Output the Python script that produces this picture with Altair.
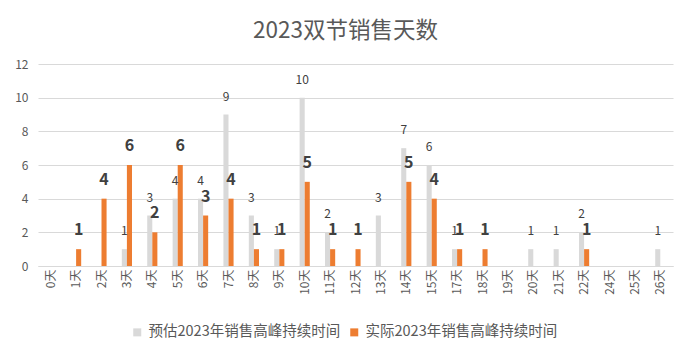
import altair as alt
import pandas as pd

categories = ["0天", "1天", "2天", "3天", "4天", "5天", "6天", "7天", "8天", "9天",
              "10天", "11天", "12天", "13天", "14天", "15天", "17天", "18天", "19天",
              "20天", "21天", "22天", "24天", "25天", "26天"]
estimated = [0, 0, 0, 1, 3, 4, 4, 9, 3, 1, 10, 2, 0, 3, 7, 6, 1, 0, 0, 1, 1, 2, 0, 0, 1]
actual = [0, 1, 4, 6, 2, 6, 3, 4, 1, 1, 5, 1, 1, 0, 5, 4, 1, 1, 0, 0, 0, 1, 0, 0, 0]
series = ["预估2023年销售高峰持续时间", "实际2023年销售高峰持续时间"]
colors = ["#d9d9d9", "#ed7d31"]
title_text = "2023双节销售天数"

rows = []
for c, e, a in zip(categories, estimated, actual):
    rows.append({"cat": c, "series": series[0], "value": e})
    rows.append({"cat": c, "series": series[1], "value": a})
df = pd.DataFrame(rows)

FONT = "Noto Sans CJK SC"

x = alt.X("cat:N", sort=categories, title=None,
          scale=alt.Scale(paddingInner=0.6, paddingOuter=0.3),
          axis=alt.Axis(labelAngle=-90, labelFontSize=12, labelColor="#595959",
                        labelFont=FONT, ticks=False, domainColor="#d9d9d9",
                        labelPadding=3, grid=False))
xoff = alt.XOffset("series:N", sort=series, scale=alt.Scale(domain=series))
y = alt.Y("value:Q", title=None,
          scale=alt.Scale(domain=[0, 12]),
          axis=alt.Axis(values=[0, 2, 4, 6, 8, 10, 12], labelFontSize=12,
                        labelColor="#595959", labelFont=FONT, ticks=False,
                        domain=False, gridColor="#d9d9d9", labelPadding=10))

base = alt.Chart(df)

bars = base.mark_bar().encode(
    x=x, xOffset=xoff, y=y,
    color=alt.Color("series:N", sort=series,
                    scale=alt.Scale(domain=series, range=colors),
                    legend=alt.Legend(title=None, orient="none", direction="horizontal",
                                      legendX=92, legendY=261, symbolType="square",
                                      symbolSize=64, symbolStrokeWidth=0,
                                      labelFontSize=14.5, labelColor="#595959",
                                      labelFont=FONT, columnPadding=6, labelOffset=4,
                                      labelLimit=0)),
)

est_labels = base.transform_filter(
    (alt.datum.series == series[0]) & (alt.datum.value > 0)
).mark_text(baseline="alphabetic", dy=-14, fontSize=12, color="#404040", font=FONT).encode(
    x=x, xOffset=xoff, y=y, text="value:Q")

act_labels = base.transform_filter(
    (alt.datum.series == series[1]) & (alt.datum.value > 0)
).mark_text(baseline="alphabetic", dy=-14, fontSize=16, fontWeight="bold",
            color="#404040", font=FONT).encode(
    x=x, xOffset=xoff, y=y, text="value:Q")

chart = alt.layer(bars, est_labels, act_labels).properties(
    width=635, height=202,
    title=alt.Title(title_text, fontSize=22.5, color="#595959", font=FONT,
                    fontWeight="normal", anchor="middle", offset=16, dx=-10),
    autosize=alt.AutoSizeParams(type="none"),
    padding={"left": 30, "top": 56, "right": 13, "bottom": 86},
    background="white",
).configure_view(stroke=None)

chart.save("out.html", embed_options={"renderer": "svg", "actions": False})
